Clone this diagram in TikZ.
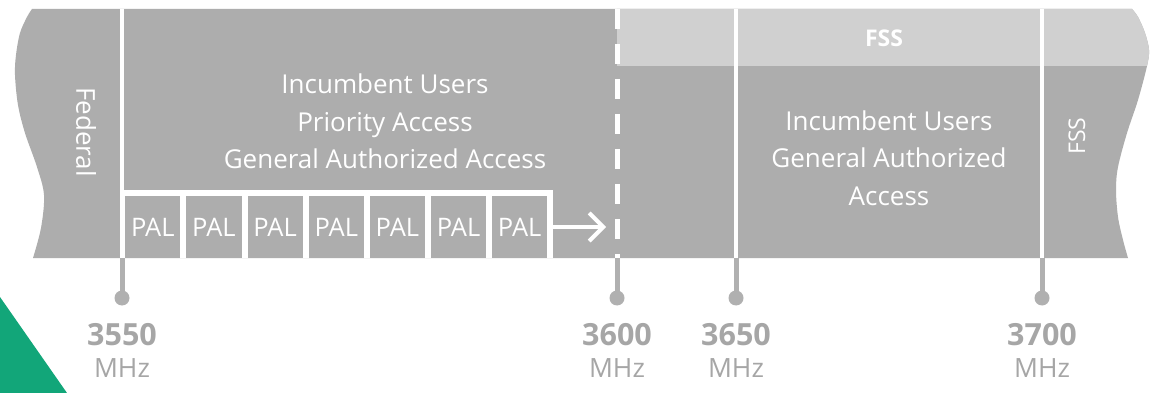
\documentclass[tikz,border=0pt]{standalone}
\usepackage{fontspec}
\setmainfont{Open Sans}
\usetikzlibrary{arrows.meta}

\definecolor{band}{HTML}{ADADAD}
\definecolor{bandlight}{HTML}{D0D0D0}
\definecolor{labelgray}{HTML}{A6A6A6}
\definecolor{stemgray}{HTML}{B0B0B0}
\definecolor{accent}{HTML}{12A679}

% Outline of the spectrum band with its torn (wavy) left and right edges
\newcommand\spectrumoutline{%
  plot[smooth,tension=0.55] coordinates {(32,9) (27,17) (20,33) (16,55) (15,75) (18,105) (25,133) (37,167) (44,195) (41,228) (33,258)}
  -- plot[smooth,tension=0.55] coordinates {(1128,258) (1123,240) (1118,217) (1116,190) (1118,167) (1127,133) (1138,100) (1147,66) (1149,50) (1145,33) (1138,17) (1132,9)}
  -- cycle}

\begin{document}
\begin{tikzpicture}[x=1pt,y=-1pt,
  bandtext/.style={text=white, font=\fontsize{26}{37.5}\selectfont, align=center, inner sep=0pt},
  divider/.style={draw=white, line width=4.5pt},
  stem/.style={draw=stemgray, line width=5pt},
  tickdot/.style={circle, fill=stemgray, minimum size=15pt, inner sep=0pt},
  freqnum/.style={text=labelgray, font=\bfseries\fontsize{30.5}{36}\selectfont, inner sep=0pt},
  frequnit/.style={text=labelgray, font=\fontsize{26.5}{30}\selectfont, inner sep=0pt},
  palbox/.style={fill=band, minimum width=55.2pt, minimum height=62.5pt, inner sep=0pt,
    text=white, font=\fontsize{25.5}{30}\selectfont, anchor=north west}]

\useasboundingbox (0,0) rectangle (1152,393);
\fill[white] (0,0) rectangle (1152,393);

% green corner accent
\fill[accent] (0,297) -- (67,393) -- (0,393) -- cycle;

% spectrum band
\fill[band] \spectrumoutline;
\begin{scope}
  \clip \spectrumoutline;
  \fill[bandlight] (617,0) rectangle (1160,66);
\end{scope}

% band boundaries
\coordinate (a3550) at (122,9);   \coordinate (b3550) at (122,258);
\coordinate (a3600) at (617,9);   \coordinate (b3600) at (617,258);
\coordinate (a3650) at (736,9);   \coordinate (b3650) at (736,258);
\coordinate (a3700) at (1042,9);  \coordinate (b3700) at (1042,258);

\draw[divider] (a3550) -- (b3550);
\draw[divider] (a3650) -- (b3650);
\draw[divider] (a3700) -- (b3700);
\draw[divider, line width=5pt, dash pattern=on 20pt off 15pt] (a3600) -- (b3600);

% PAL blocks
\fill[white] (120,190) rectangle (552.5,258);
\foreach \i in {1,...,7}{
  \node[palbox] (p\i) at ({125+61.15*(\i-1)},195.5) {PAL};
}
\coordinate (palend) at (552,227);
\coordinate (paltip) at (606,227);
\draw[white, line width=4pt, -{Straight Barb[length=14pt,width=28pt,line width=4pt]}] (palend) -- (paltip);

% band texts
\node[bandtext] (lower) at (385,121.5) {Incumbent Users\\Priority Access\\General Authorized Access};
\node[bandtext] (upper) at (889,158) {Incumbent Users\\General Authorized\\Access};
\node[bandtext, rotate=-90] (federal) at (86,132) {Federal};
\node[bandtext, rotate=90, font=\fontsize{23}{28}\selectfont] (fssside) at (1077,136) {FSS};
\node[text=white, font=\bfseries\fontsize{23}{28}\selectfont, inner sep=0pt] (fsstop) at (884,38) {FSS};

% frequency ticks
\foreach \f/\x in {3550/122, 3600/617, 3650/736, 3700/1042}{
  \node[tickdot] (d\f) at (\x,298) {};
  \draw[stem] (b\f) -- (d\f.center);
  \node[freqnum] (n\f) at (\x,335) {\f};
  \node[frequnit] (u\f) at (\x,368) {MHz};
}
\end{tikzpicture}
\end{document}
